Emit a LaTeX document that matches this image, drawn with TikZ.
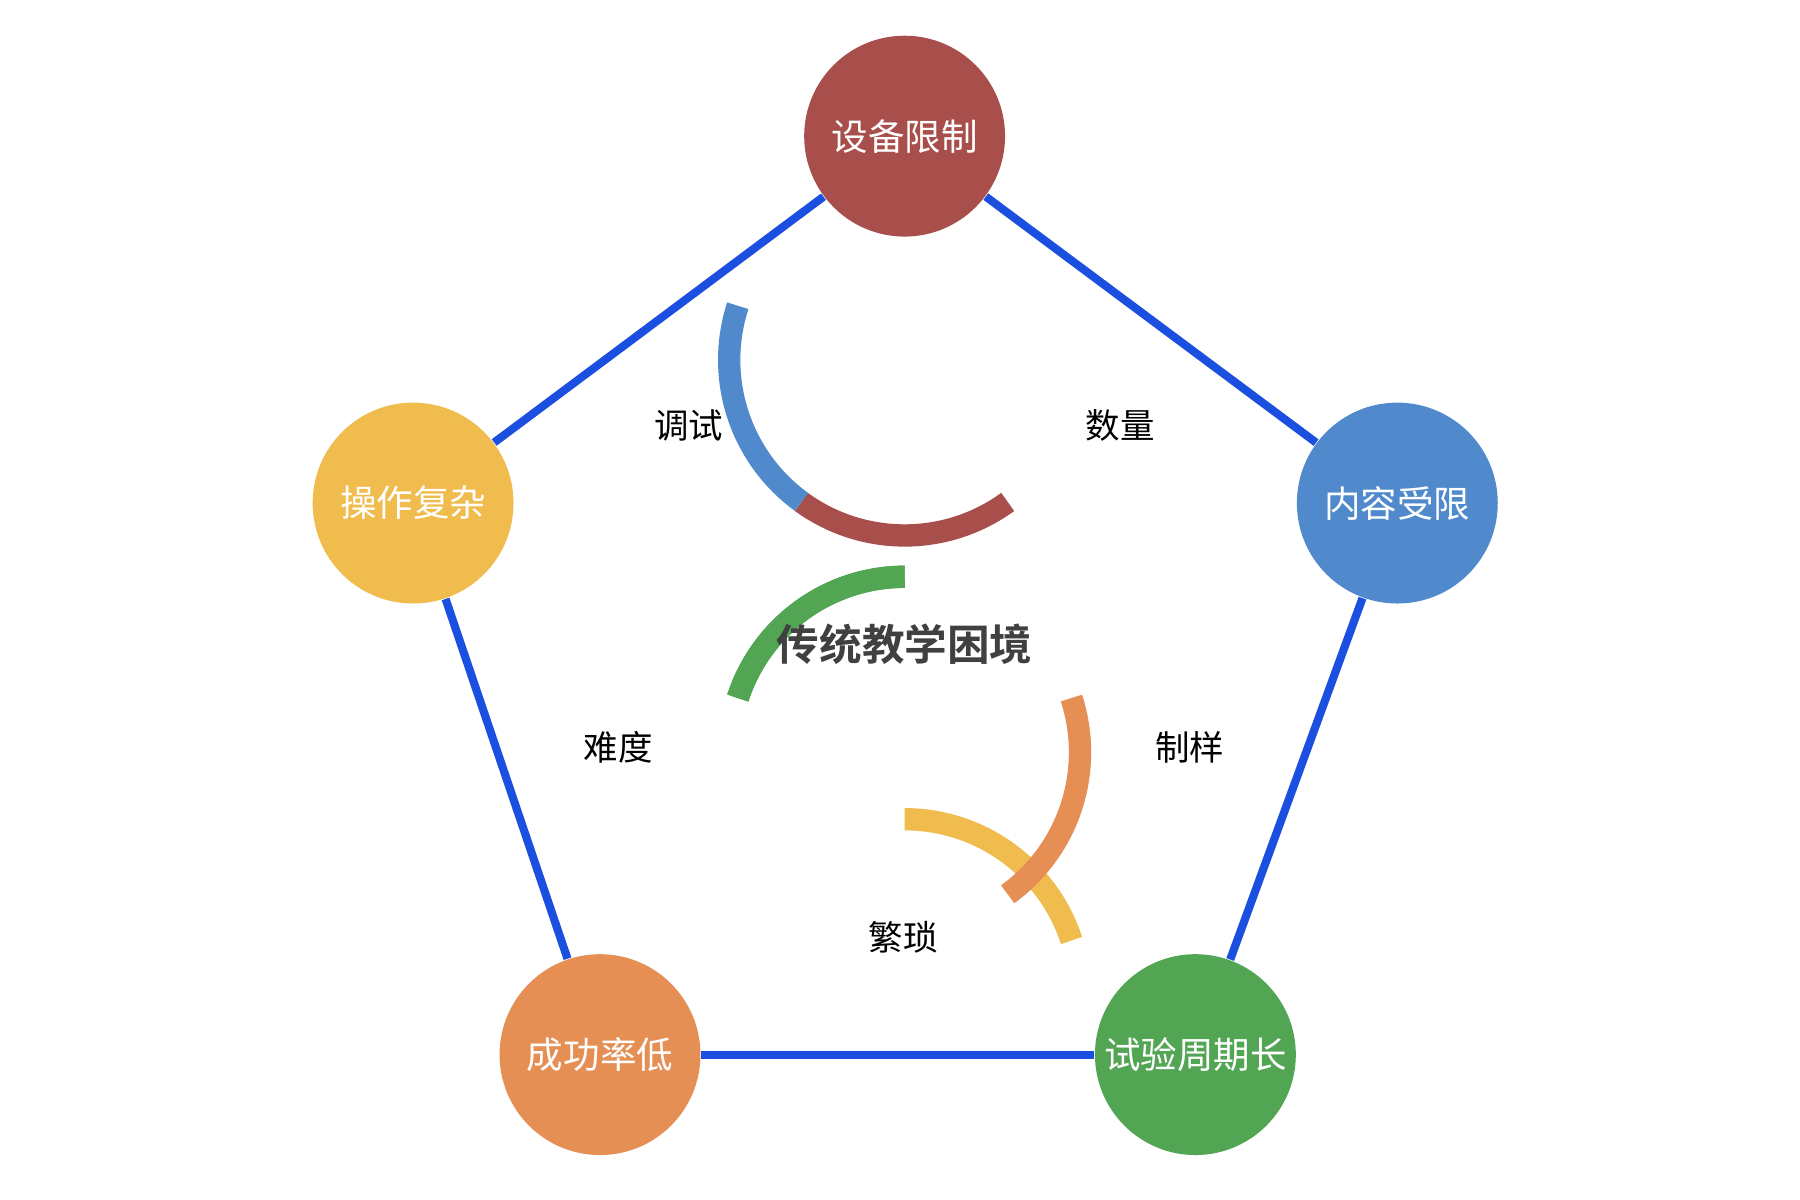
\documentclass[tikz,border=0pt]{standalone}
\usepackage{fontspec}
\setmainfont{Noto Sans CJK SC}
\newfontfamily\cjkbold{Noto Sans CJK SC Bold}
\definecolor{cred}{HTML}{A84F4B}
\definecolor{cblue}{HTML}{508ACD}
\definecolor{cgreen}{HTML}{51A553}
\definecolor{corange}{HTML}{E58F55}
\definecolor{cyellow}{HTML}{F0BC4E}
\definecolor{cline}{HTML}{1A4FE0}
\begin{document}
\begin{tikzpicture}[x=0.01cm,y=-0.01cm,
  circ/.style={circle,minimum size=1.74cm,inner sep=0pt,text=white,font=\fontsize{9}{11}\selectfont},
  lbl/.style={font=\fontsize{8.5}{10}\selectfont},
  edge/.style={cline,line width=2pt}]
\useasboundingbox (0,0) rectangle (1560,1040);
\coordinate (c) at (784,558);
\node[circ,fill=cred] (top) at (784,118) {设备限制};
\node[circ,fill=cblue] (rt) at (1211,436) {内容受限};
\node[circ,fill=cgreen] (br) at (1036,914) {试验周期长};
\node[circ,fill=corange] (bl) at (520,914) {成功率低};
\node[circ,fill=cyellow] (lf) at (358,436) {操作复杂};
\begin{scope}[on background layer/.try]
\end{scope}
\draw[edge] (top) -- (rt);
\draw[edge] (rt) -- (br);
\draw[edge] (br) -- (bl);
\draw[edge] (bl) -- (lf);
\draw[edge] (lf) -- (top);
\foreach \a/\b/\col in {90/18/cyellow,18/-54/corange,-54/-126/cred,-126/-198/cblue,162/90/cgreen}{
  \draw[\col,line width=5.5pt] ([shift={(\a:152)}]c) arc[start angle=\a,end angle=\b,radius=1.52cm];
}
\draw[cgreen,line width=5.5pt] ([shift={(162:152)}]c) arc[start angle=162,end angle=90,radius=1.52cm];
\node[font=\cjkbold\fontsize{10.5}{12}\selectfont,text=black!75] (t) at (c) {传统教学困境};
\node[lbl] (l1) at (597,369) {调试};
\node[lbl] (l2) at (971,369) {数量};
\node[lbl] (l3) at (536,648) {难度};
\node[lbl] (l4) at (1031,648) {制样};
\node[lbl] (l5) at (783,812) {繁琐};
\end{tikzpicture}
\end{document}
